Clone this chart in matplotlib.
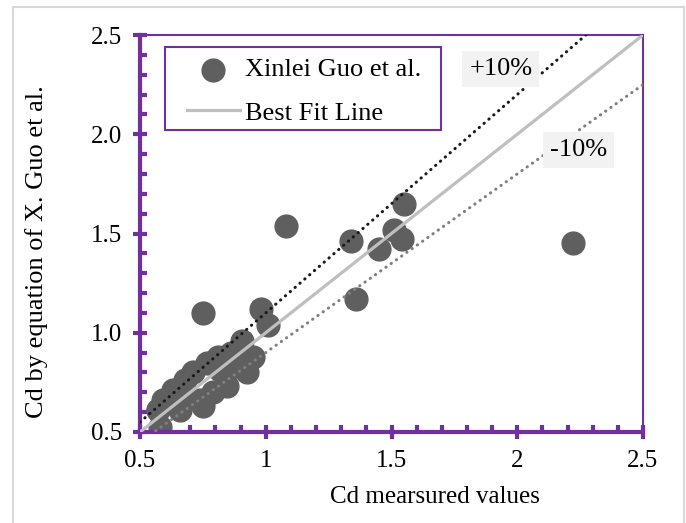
import matplotlib.pyplot as plt
import numpy as np
from matplotlib.patches import Rectangle

plt.rcParams['font.family'] = ['Liberation Serif', 'DejaVu Serif']

cd_measured = [0.57, 0.58, 0.57, 0.59, 0.63, 0.66, 0.68, 0.69, 0.71, 0.74, 0.75, 0.765,
               0.79, 0.81, 0.82, 0.845, 0.86, 0.88, 0.905, 0.925, 0.95, 0.75, 0.98,
               1.01, 1.08, 1.34, 1.36, 1.45, 1.51, 1.54, 1.55, 2.22]
cd_guo = [0.61, 0.525, 0.61, 0.66, 0.71, 0.61, 0.76, 0.67, 0.80, 0.66, 0.63, 0.85,
          0.70, 0.88, 0.81, 0.73, 0.90, 0.83, 0.96, 0.80, 0.88, 1.10, 1.12,
          1.04, 1.54, 1.46, 1.17, 1.42, 1.52, 1.47, 1.65, 1.45]

fit_x = [0.5, 2.5]
band = 0.10

fig = plt.figure(figsize=(6.86, 5.23), dpi=100)
ax = fig.add_axes([140/686, 1-432/523, 503/686, 397/523])

purple = '#7030A0'

ax.scatter(cd_measured, cd_guo, s=270, color='#5F5F5F', zorder=2, label='Xinlei Guo et al.')
fx = np.array(fit_x)
ax.plot(fx, fx, color='#BFBFBF', lw=2.3, zorder=3, label='Best Fit Line')
ax.plot(fx, fx*(1+band), color='#1A1A1A', lw=2.2, ls=(0, (0.1, 2.0)),
        dash_capstyle='round', zorder=3)
ax.plot(fx, fx*(1-band), color='#808080', lw=2.2, ls=(0, (0.1, 2.0)),
        dash_capstyle='round', zorder=3)

ax.set_xlim(0.5, 2.5)
ax.set_ylim(0.5, 2.5)
ax.set_xticks([0.5, 1, 1.5, 2, 2.5])
ax.set_xticklabels(['0.5', '1', '1.5', '2', '2.5'])
ax.set_yticks([0.5, 1.0, 1.5, 2.0, 2.5])
ax.set_yticklabels(['0.5', '1.0', '1.5', '2.0', '2.5'])
ax.set_xticks(np.arange(0.5, 2.51, 0.1), minor=True)
ax.set_yticks(np.arange(0.5, 2.51, 0.1), minor=True)
ax.tick_params(which='major', direction='inout', length=10, width=3, color=purple,
               labelsize=18, pad=8)
ax.tick_params(which='minor', direction='in', length=5, width=3, color=purple)

for side in ['left', 'bottom']:
    ax.spines[side].set_color(purple)
    ax.spines[side].set_linewidth(3)
for side in ['top', 'right']:
    ax.spines[side].set_color(purple)
    ax.spines[side].set_linewidth(1.5)

ax.text(1.935, 2.33, '+10%', fontsize=19, ha='center', va='center',
        bbox=dict(facecolor='#F2F2F2', edgecolor='none', pad=5))
ax.text(2.245, 1.92, '-10%', fontsize=19, ha='center', va='center',
        bbox=dict(facecolor='#F2F2F2', edgecolor='none', pad=5))

# legend without its own frame, box drawn separately
leg = ax.legend(loc='upper left', bbox_to_anchor=(47/503, 1-23/397), fontsize=19,
                frameon=False, handlelength=2.0, handletextpad=0.2,
                borderpad=0, labelspacing=0.75, borderaxespad=0)
ax.add_patch(Rectangle((25/503, 1-83/397-12/397), 276/503, 83/397, transform=ax.transAxes,
                       fill=False, edgecolor=purple, lw=1.5, zorder=5))

fig.text(435/686, 1-497/523, 'Cd mearsured values', fontsize=18, ha='center', va='center')
fig.text(37/686, 1-252/523, 'Cd by equation of X. Guo et al.', fontsize=19,
         rotation=90, ha='center', va='center')

fig.patches.append(Rectangle((13/686, -0.05), 671/686, 1.05-7/523, transform=fig.transFigure,
                             fill=False, edgecolor='#D9D9D9', lw=1.5))

fig.savefig('out.png', dpi=100)
